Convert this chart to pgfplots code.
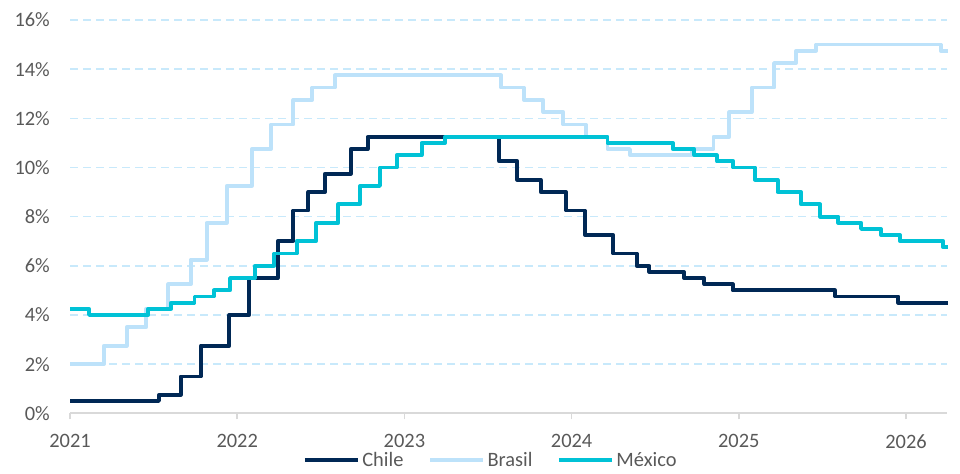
\documentclass[border=0pt]{standalone}
\usepackage{fontspec}
\setmainfont{Carlito}
\usepackage{pgfplots}
\pgfplotsset{compat=1.18}
\definecolor{chile}{RGB}{0,40,85}
\definecolor{brasil}{RGB}{189,226,250}
\definecolor{mexico}{RGB}{0,194,214}
\definecolor{gridc}{RGB}{200,233,251}
\definecolor{axisc}{RGB}{217,217,217}
\definecolor{txt}{RGB}{89,89,89}
\begin{document}
\begin{tikzpicture}
\useasboundingbox (0,0) rectangle (960bp,474bp);
\begin{axis}[
  at={(70bp,60.7bp)}, anchor=south west,
  scale only axis, width=877bp, height=393.3bp,
  xmin=2021, xmax=2026.245, ymin=0, ymax=16,
  axis x line*=bottom, axis y line*=left,
  y axis line style={draw=none},
  x axis line style={axisc, line width=2bp},
  /pgf/number format/assume math mode=true,
  xtick={2021,2022,2023,2024,2025,2026},
  xticklabels={2021,2022,2023,2024,2025,2026},
  ytick={0,2,4,6,8,10,12,14,16},
  yticklabels={0\%,2\%,4\%,6\%,8\%,10\%,12\%,14\%,16\%},
  tick align=outside, major tick length=6bp,
  xtick style={axisc, line width=1.5bp},
  ytick style={draw=none},
  ymajorgrids,
  grid style={gridc, line width=1.6bp, dash pattern=on 8bp off 5bp},
  ticklabel style={font=\fontsize{20.5}{24}\selectfont, text=txt},
  yticklabel style={anchor=east, inner sep=0pt, xshift=-14bp},
  xticklabel style={anchor=north, inner sep=0pt, yshift=-15bp},
  clip=false,
  legend style={at={(0.4800,-0.1195)}, anchor=center, draw=none, fill=none,
    font=\fontsize{20.5}{24}\selectfont, text=txt,
    /tikz/every even column/.append style={column sep=22bp},
    nodes={inner sep=2.5bp}},
  legend columns=-1,
  legend image code/.code={\draw[#1, line width=4bp] (0bp,0bp) -- (53bp,0bp);},
]
\addplot[chile, line width=3.8bp, const plot, line join=round] coordinates {
(2021.000, 0.5) (2021.532, 0.75) (2021.662, 1.5) (2021.782, 2.75) (2021.953, 4.0)
(2022.072, 5.5) (2022.242, 7.0) (2022.336, 8.25) (2022.425, 9.0) (2022.525, 9.75)
(2022.679, 10.75) (2022.780, 11.25) (2023.568, 10.25) (2023.675, 9.5) (2023.815, 9.0)
(2023.967, 8.25) (2024.080, 7.25) (2024.249, 6.5) (2024.389, 6.0) (2024.465, 5.75)
(2024.672, 5.5) (2024.794, 5.25) (2024.963, 5.0) (2025.575, 4.75) (2025.954, 4.5)
(2026.249, 4.5)};
\addlegendentry{Chile}
\addplot[brasil, line width=3.8bp, const plot, line join=round] coordinates {
(2021.000, 2.0) (2021.203, 2.75) (2021.339, 3.5) (2021.455, 4.25) (2021.588, 5.25)
(2021.722, 6.25) (2021.817, 7.75) (2021.937, 9.25) (2022.087, 10.75) (2022.202, 11.75)
(2022.336, 12.75) (2022.449, 13.25) (2022.585, 13.75) (2023.578, 13.25) (2023.715, 12.75)
(2023.831, 12.25) (2023.950, 11.75) (2024.084, 11.25) (2024.214, 10.75) (2024.349, 10.5)
(2024.718, 10.75) (2024.848, 11.25) (2024.943, 12.25) (2025.077, 13.25) (2025.211, 14.25)
(2025.342, 14.75) (2025.462, 15.0) (2026.207, 14.75) (2026.249, 14.75)};
\addlegendentry{Brasil}
\addplot[mexico, line width=3.8bp, const plot, line join=round] coordinates {
(2021.000, 4.25) (2021.114, 4.0) (2021.468, 4.25) (2021.604, 4.5) (2021.744, 4.75)
(2021.861, 5.0) (2021.957, 5.5) (2022.106, 6.0) (2022.220, 6.5) (2022.356, 7.0)
(2022.471, 7.75) (2022.605, 8.5) (2022.734, 9.25) (2022.854, 10.0) (2022.954, 10.5)
(2023.103, 11.0) (2023.243, 11.25) (2024.214, 11.0) (2024.605, 10.75) (2024.734, 10.5)
(2024.868, 10.25) (2024.967, 10.0) (2025.097, 9.5) (2025.232, 9.0) (2025.372, 8.5)
(2025.486, 8.0) (2025.595, 7.75) (2025.731, 7.5) (2025.850, 7.25) (2025.964, 7.0)
(2026.223, 6.75) (2026.249, 6.75)};
\addlegendentry{México}
\end{axis}
\end{tikzpicture}
\end{document}
